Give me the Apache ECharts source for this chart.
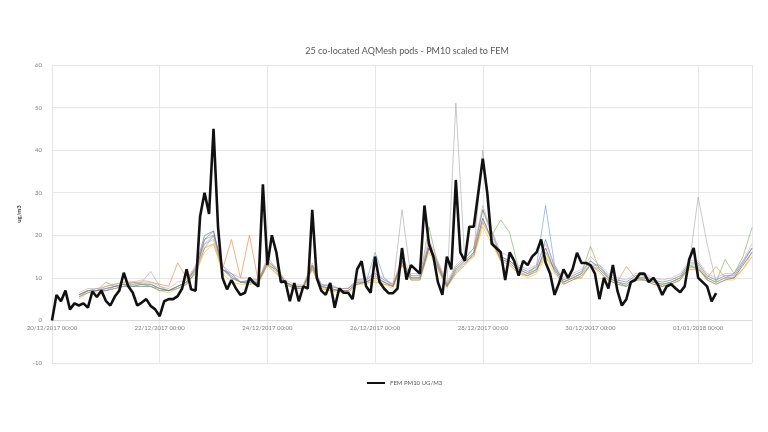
<!DOCTYPE html>
<html lang="en">
<head>
    <meta charset="UTF-8">
    <title>25 co-located AQMesh pods - PM10 scaled to FEM</title>
    <script src="https://cdn.jsdelivr.net/npm/echarts@6/dist/echarts.min.js"></script>
    <style>
        * { margin: 0; padding: 0; }
        body { background: #fff; }
        #main { width: 768px; height: 432px; }
    </style>
</head>
<body>
<div id="main"></div>
<script>
    // start of the record, and sampling steps (hours)
    var startDate = new Date(2017, 11, 20, 0, 0);
    var femStep = 2;
    var podStep = 4;
    var tickHours = [0, 48, 96, 144, 192, 240, 288];
    var yTicks = [-10, 0, 10, 20, 30, 40, 50, 60];

    // reference monitor, every 2 hours
    var fem = [0, 6, 4.5, 7, 2.6, 4, 3.5, 4, 3, 6.8, 5.5, 7, 4.6, 3.5, 5.6, 7, 11.2, 8, 6.5, 3.5,
        4.2, 5, 3.4, 2.6, 1, 4.5, 5, 5, 5.7, 7.5, 12, 7.3, 7, 24.4, 30, 25, 45, 22, 10, 7.3,
        9.5, 7.5, 6, 6.5, 10, 8.8, 8, 32, 13, 20, 16, 9, 9.2, 4.5, 8.8, 4.5, 8, 7.5, 26, 10,
        7, 6, 8.8, 3, 7.5, 6.5, 6.5, 5, 12, 13.9, 8, 6.5, 15, 9, 7.5, 6.4, 6.4, 7.5, 17, 9.6,
        13, 12, 11, 27, 18, 15, 9, 6, 15, 12, 33, 16, 14, 22, 22, 30, 38, 30, 18, 17,
        16, 9.5, 16, 14, 10.5, 14, 13, 15, 16, 19, 13.6, 11, 6, 8.8, 12, 10, 12, 15.9, 13.5, 13.5,
        13, 11, 5, 10, 7.5, 13, 7, 3.5, 5, 9, 9.5, 11, 11, 9, 10, 8.5, 6, 8, 8.5, 7.5,
        6.6, 8, 14.3, 17, 10, 9, 8, 4.5, 6.4];

    // a few of the pods, every 4 hours
    var podA = [null, null, null, 5.5, 7, 7.5, 7, 8, 8, 9, 8.5, 8, 7.5,
        7, 8, 9, 11, 17, 20, 13, 10, 9, 8.5,
        9, 13, 12, 9, 8, 8, 12, 8, 8.5, 7.5,
        7.5, 9, 9, 16, 10, 8, 13, 10, 10, 17,
        13, 8, 11, 13, 16, 24, 19, 14, 14, 12,
        11, 13, 27, 13, 9, 10, 11, 13, 13, 10,
        9, 8, 10, 9.5, 9, 8, 9, 10, 13, 12,
        10, 9, 10, 11, 14, 17];
    var podB = [null, null, null, 6, 7, 7, 8, 8.5, 9, 9, 9, 9, 8.5,
        8, 13.5, 10, 12, 17, 18, 12, 19, 10, 20,
        9, 13, 11, 9, 7.5, 8, 12, 7.5, 7, 7,
        6.5, 8.5, 9, 9, 8.5, 8, 13, 10, 10, 17,
        12, 8, 12, 14, 15, 23, 19, 14, 13, 11,
        10.5, 12, 15, 12, 9, 10, 10, 13, 12, 10,
        9, 12.7, 10, 10, 9, 8.5, 9, 10, 12, 12,
        10, 12.7, 10, 10, 12, 15];
    var podC = [null, null, null, 6, 7, 7, 7.5, 8, 8.5, 8.5, 9, 11.5, 8,
        7, 8, 9, 12, 18, 19, 12, 10, 9, 9,
        9, 15, 12, 9, 8, 8, 13, 8, 7, 7,
        7, 9, 9, 10, 9, 8, 26, 10, 10, 18,
        13, 8, 51, 14, 16, 40, 20, 15, 14, 12,
        11, 12, 17, 12, 9, 10, 11, 14, 12, 10,
        9, 8.5, 10, 10, 9, 8.5, 9, 10, 13, 29,
        18, 9, 10, 10, 13, 16];
    var podD = [null, null, null, 5, 6.5, 6.5, 7, 7.5, 8, 8, 8, 8, 7,
        6.5, 7.5, 8.5, 11, 16, 18, 11, 9, 8.5, 8.5,
        8.5, 13, 11, 8.5, 7.5, 7.5, 12, 7.5, 7, 6.5,
        6.5, 8.5, 8.5, 9.5, 8.5, 7.5, 13, 9.5, 9.5, 16,
        12, 7.5, 11, 13, 15, 22, 18, 14, 13, 11,
        10, 11, 15, 11, 8.5, 9.5, 10, 13, 11, 9.5,
        8.5, 8, 9.5, 9.5, 8.5, 8, 8.5, 9.5, 12, 12,
        9.5, 8.5, 9.5, 9.5, 12, 16];
    var podE = [null, null, null, 6, 7, 7, 7.5, 8, 8.5, 8, 8.5, 8.5, 7.5,
        7, 8, 9, 12.5, 20, 21, 12, 10.5, 9, 9.5,
        9.5, 14, 12, 9, 8, 8, 13, 8.5, 8, 7.5,
        7.5, 9.5, 9.5, 11, 9.5, 8.5, 14, 10.5, 10.5, 18,
        13.5, 8.5, 12.5, 14.5, 17, 26, 21, 15, 14, 12.5,
        11.5, 12.5, 19, 12.5, 9.5, 10.5, 11.5, 14, 12.5, 10.5,
        9.5, 9, 10.5, 10.5, 9.5, 9, 9.5, 10.5, 13.5, 13.5,
        10.5, 9.5, 10.5, 10.5, 13.5, 17];
    var podF = [null, null, null, 6, 7, 7, 9, 8, 8.5, 8.5, 8.5, 8.5, 7.5,
        7, 8, 9, 12, 19, 20, 12, 10, 9, 9,
        9, 14, 12, 9, 8, 8, 13, 8, 7.5, 7,
        7, 9, 9, 10, 9, 8, 14, 10, 10, 22,
        13, 8, 12, 14, 16, 26, 20, 23.6, 20.6, 12,
        11, 12, 16, 12, 9, 10, 11, 17.4, 12, 10,
        9, 8.5, 10, 10, 9, 8.5, 9, 10, 13, 13,
        10, 9, 14.3, 11, 15, 21.8];
    var podG = [null, null, null, 6.5, 7.5, 7.5, 8, 8.5, 9, 9, 9.5, 9, 8,
        7.5, 9, 9.5, 13, 18, 20, 13, 11, 10, 10,
        9.5, 14, 12.5, 9.5, 8.5, 8.5, 13.5, 8.5, 8, 7.5,
        7.5, 9.5, 10, 11, 10, 8.5, 15, 11, 11, 19,
        14, 9, 13, 15, 17, 27, 21, 16, 15, 13,
        12, 13, 18, 13, 10, 11, 12, 15, 13, 11,
        10, 9.5, 11, 11, 10, 9.5, 10, 11, 14, 14,
        11, 10, 11, 11, 14, 18];
    var podH = [null, null, null, 5.5, 6.5, 7, 7, 7.5, 8, 8, 8, 8, 7,
        7, 7.5, 8.5, 11.5, 19, 21, 12, 11, 9, 9,
        9, 13.5, 11.5, 8.5, 7.5, 7.5, 12.5, 8, 7.5, 7,
        7, 8.5, 9, 10.5, 9, 8, 13.5, 9.5, 9.5, 17,
        12.5, 8, 11.5, 13.5, 15.5, 24, 19, 14.5, 13.5, 11.5,
        10.5, 11.5, 17, 11.5, 8.5, 9.5, 10.5, 13, 11.5, 9.5,
        8.5, 8, 9.5, 9.5, 8.5, 8, 8.5, 9.5, 12.5, 12.5,
        9.5, 8.5, 9.5, 10, 13, 16];

    var pods = [podA, podB, podC, podD, podE, podF, podG, podH];
    var podColors = ['#5B9BD5', '#ED7D31', '#A5A5A5', '#FFC000', '#4472C4', '#70AD47', '#E59A9A', '#8064A2'];

    function pad(n) { return n < 10 ? '0' + n : '' + n; }

    // pairs of [hour, value] for the value axis
    function toPairs(arr, step) {
        var out = [];
        for (var i = 0; i < arr.length; i++) {
            out.push([i * step, arr[i]]);
        }
        return out;
    }

    var series = [];
    pods.forEach(function (p, k) {
        series.push({
            name: 'pod ' + (k + 1),
            type: 'line',
            data: toPairs(p, podStep),
            showSymbol: false,
            connectNulls: false,
            lineStyle: { width: 1, color: podColors[k], opacity: 0.6 },
            itemStyle: { color: podColors[k] },
            z: 2
        });
    });
    series.push({
        name: 'FEM PM10 UG/M3',
        type: 'line',
        data: toPairs(fem, femStep),
        showSymbol: false,
        lineStyle: { width: 2.6, color: '#111' },
        itemStyle: { color: '#111' },
        z: 5
    });

    var myChart = echarts.init(document.getElementById('main'));
    var option = {
        animation: false,
        textStyle: { fontFamily: 'Lato' },
        title: {
            text: '25 co-located AQMesh pods - PM10 scaled to FEM',
            left: 402,
            top: 42,
            textAlign: 'center',
            textStyle: { fontSize: 9, fontWeight: 'normal', color: '#595959', fontFamily: 'Lato' }
        },
        legend: {
            data: ['FEM PM10 UG/M3'],
            left: 362,
            top: 375,
            itemWidth: 18,
            itemHeight: 8,
            icon: 'path://M0,3 L18,3 L18,5 L0,5 Z',
            textStyle: { fontSize: 6, color: '#595959', fontFamily: 'Lato' }
        },
        grid: { left: 52, right: 16, top: 65, bottom: 69 },
        xAxis: [{
            // labels and line sit on the zero line, 10 units above the bottom
            type: 'value',
            min: 0,
            max: 312,
            interval: 48,
            offset: -42.6,
            axisLine: { onZero: false, lineStyle: { color: '#d9d9d9' } },
            axisTick: { show: false },
            splitLine: { show: true, lineStyle: { color: '#e6e6e6' } },
            axisLabel: {
                fontSize: 6,
                color: '#7f7f7f',
                margin: 5,
                showMaxLabel: false,
                formatter: function (v) {
                    if (tickHours.indexOf(v) < 0) return '';
                    var d = new Date(startDate.getTime() + v * 3600000);
                    return pad(d.getDate()) + '/' + pad(d.getMonth() + 1) + '/' + d.getFullYear() + ' ' +
                        pad(d.getHours()) + ':' + pad(d.getMinutes());
                }
            }
        }],
        yAxis: {
            type: 'value',
            min: yTicks[0],
            max: yTicks[yTicks.length - 1],
            interval: 10,
            name: 'ug/m3',
            nameLocation: 'middle',
            nameRotate: 90,
            nameGap: 20,
            nameTextStyle: { fontSize: 6, fontWeight: 'bold', color: '#404040', fontFamily: 'Lato' },
            axisLine: { show: false },
            axisTick: { show: false },
            splitLine: { lineStyle: { color: '#e6e6e6' } },
            axisLabel: { fontSize: 6, color: '#7f7f7f', margin: 10 }
        },
        series: series
    };
    myChart.setOption(option);
</script>
</body>
</html>
